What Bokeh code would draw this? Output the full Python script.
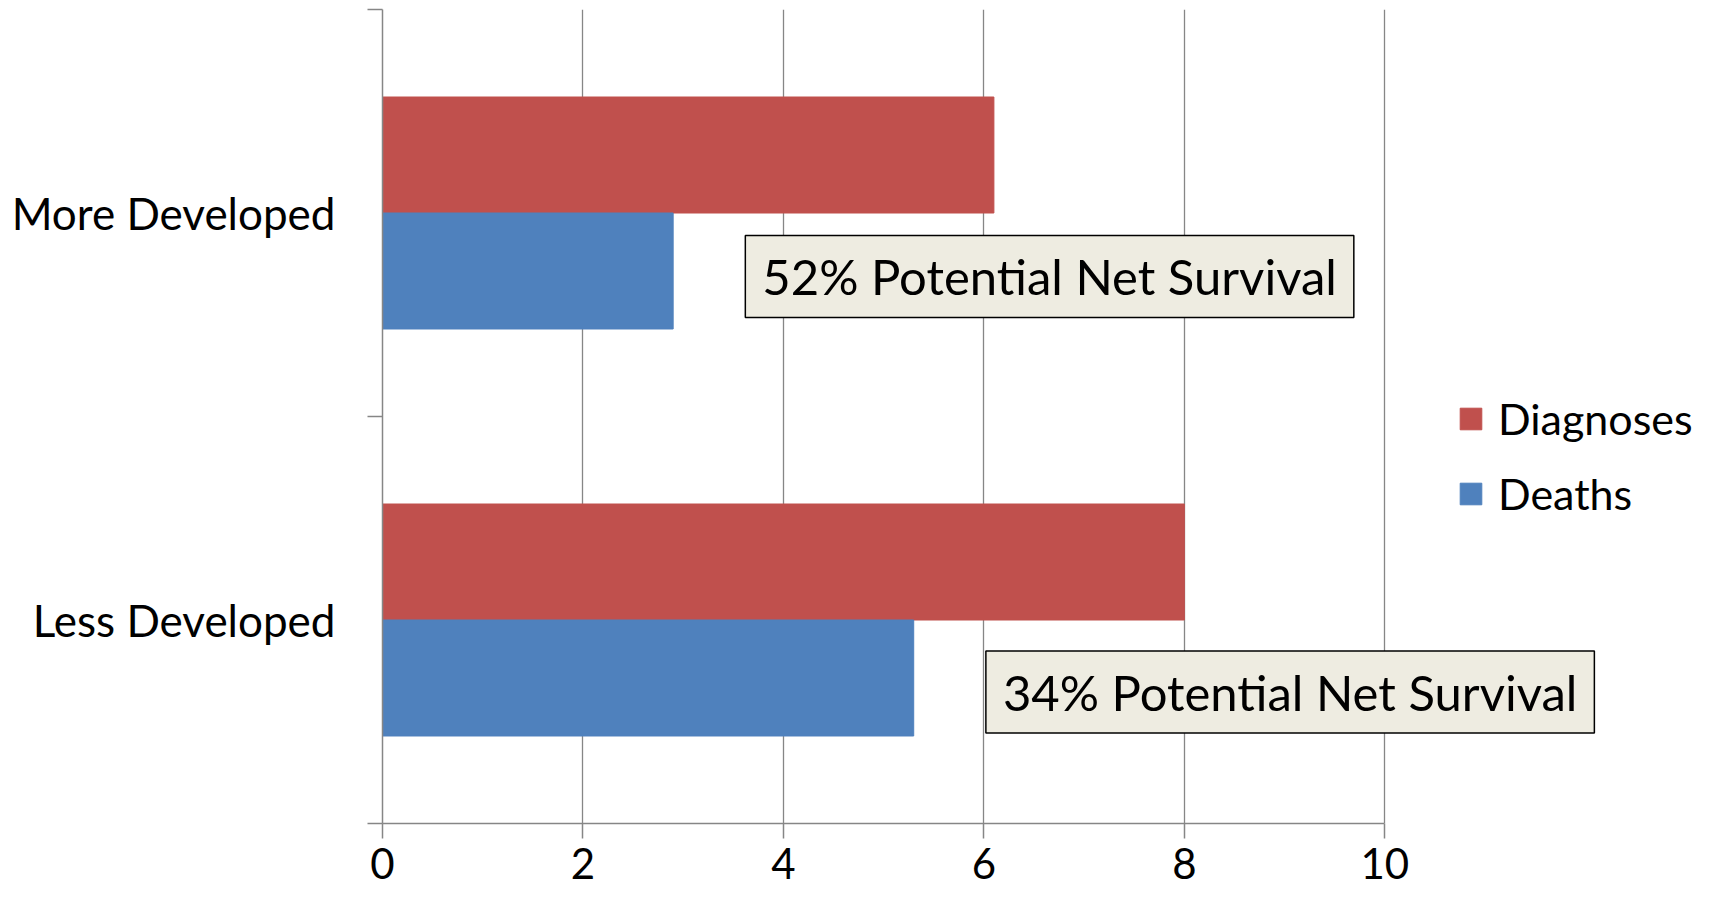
from bokeh.plotting import figure
from bokeh.models import (ColumnDataSource, FixedTicker, Range1d, Legend,
                          LegendItem, Label)
from bokeh.transform import dodge
from bokeh.embed import file_html
from bokeh.resources import INLINE

# ---- data ----
categories = ["More Developed", "Less Developed"]
diagnoses = [6.1, 8.0]
deaths = [2.9, 5.3]
series_names = ["Diagnoses", "Deaths"]
x_ticks = [0, 2, 4, 6, 8, 10]
survival_notes = ["52% Potential Net Survival", "34% Potential Net Survival"]

RED = "#C0504D"
BLUE = "#4F81BD"
GRAY = "#868686"
FONT = "Lato"

n = len(categories)
ypos = [n - i - 0.5 for i in range(n)]
src = ColumnDataSource(dict(cat=categories, y=ypos, diag=diagnoses, death=deaths))

p = figure(width=1697, height=888,
           x_range=Range1d(0, 13.12), y_range=Range1d(0, n),
           output_backend="svg", toolbar_location=None,
           min_border_left=382, min_border_right=0,
           min_border_top=9, min_border_bottom=65)
p.outline_line_color = None
p.background_fill_color = "white"
p.border_fill_color = "white"

bar_h = 0.285
r1 = p.hbar(y=dodge("y", bar_h / 2), left=0, right="diag", height=bar_h,
            source=src, fill_color=RED, line_color=RED)
r2 = p.hbar(y=dodge("y", -bar_h / 2), left=0, right="death", height=bar_h,
            source=src, fill_color=BLUE, line_color=BLUE)

# x axis
xa = p.xaxis[0]
xa.ticker = FixedTicker(ticks=x_ticks)
xa.bounds = (x_ticks[0], x_ticks[-1])
xa.axis_line_color = GRAY
xa.axis_line_width = 1.5
xa.major_tick_line_color = GRAY
xa.major_tick_line_width = 1.5
xa.major_tick_out = 15
xa.major_tick_in = 0
xa.minor_tick_line_color = None
xa.minor_tick_out = 0
xa.major_label_text_font = FONT
xa.major_label_text_font_size = "42px"
xa.major_label_text_color = "black"
xa.major_label_standoff = 9

p.xgrid.ticker = FixedTicker(ticks=x_ticks)
p.xgrid.bounds = (x_ticks[0], x_ticks[-1])
p.xgrid.grid_line_color = GRAY
p.xgrid.grid_line_width = 1.3
p.ygrid.visible = False

# y axis
ya = p.yaxis[0]
ya.ticker = FixedTicker(ticks=ypos, minor_ticks=list(range(n + 1)))
ya.major_label_overrides = {float(y): c for y, c in zip(ypos, categories)}
ya.axis_line_color = GRAY
ya.axis_line_width = 1.5
ya.major_tick_line_color = None
ya.major_tick_out = 0
ya.major_tick_in = 0
ya.minor_tick_line_color = GRAY
ya.minor_tick_line_width = 1.5
ya.minor_tick_out = 15
ya.minor_tick_in = 0
ya.major_label_text_font = FONT
ya.major_label_text_font_size = "44px"
ya.major_label_text_color = "black"
ya.major_label_standoff = 32

# legend
legend = Legend(items=[LegendItem(label=series_names[0], renderers=[r1]),
                       LegendItem(label=series_names[1], renderers=[r2])],
                location=(1075, 304), padding=0, margin=0, spacing=24,
                glyph_width=27, glyph_height=27, label_standoff=14,
                label_text_font=FONT, label_text_font_size="43px",
                label_text_color="black",
                border_line_color=None, background_fill_alpha=0)
p.add_layout(legend)

# survival notes (x = left edge of box, y = box centre)
note_pos = [(3.62, 1.344), (6.02, 0.323)]
for (nx, ny), txt in zip(note_pos, survival_notes):
    p.add_layout(Label(x=nx, y=ny, text=txt, text_align="left",
                       text_baseline="middle", text_font=FONT,
                       text_font_size="49px", text_color="black",
                       background_fill_color="#EEECE1",
                       border_line_color="black", border_line_width=1.5,
                       padding=(17, 12)))

open("out.html", "w").write(file_html(p, INLINE))
